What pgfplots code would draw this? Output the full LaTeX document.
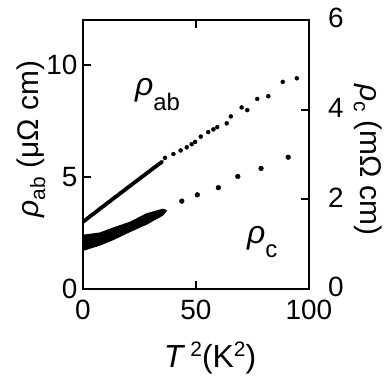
\documentclass[border=0pt]{standalone}
\usepackage{fontspec}
\setmainfont{Liberation Sans}
\usepackage{pgfplots}
\pgfplotsset{compat=1.18}

\newcommand{\tk}{\fontsize{28}{30}\selectfont}
\newcommand{\lb}{\fontsize{30}{32}\selectfont}

\begin{document}
\begin{tikzpicture}
\useasboundingbox (-83bp,-92bp) rectangle (305bp,289bp);
\pgfplotsset{
  every axis/.append style={
    scale only axis, width=226bp, height=269bp,
    at={(0,0)}, anchor=south west,
    xmin=0, xmax=100,
    tick align=inside, major tick length=8bp,
    every tick/.style={line width=2bp, black},
    axis line style={line width=2bp},
    ticklabel style={font=\tk},
    /pgf/number format/assume math mode=true,
  }
}
% rho_ab, left scale (micro-ohm cm)
\begin{axis}[
  ymin=0, ymax=12,
  xtick={0,50,100}, ytick={0,5,10},
  xtick pos=both, ytick pos=left,
  yticklabel style={xshift=-2bp},
  xticklabel style={inner sep=0pt, yshift=-11bp},
]
\addplot[black, line width=3.8bp, line cap=round] coordinates {
  (0,3.00) (1,3.07) (2,3.15) (3,3.23) (4,3.31) (5,3.38) (6,3.46) (7,3.54)
  (8,3.62) (9,3.69) (10,3.77) (11,3.85) (12,3.92) (13,4.00) (14,4.08)
  (15,4.15) (16,4.23) (17,4.31) (18,4.38) (19,4.46) (20,4.54) (21,4.61)
  (22,4.69) (23,4.77) (24,4.84) (25,4.92) (26,5.00) (27,5.07) (28,5.15)
  (29,5.22) (30,5.30) (31,5.38) (32,5.45) (33,5.53) (34,5.60) (35,5.68)
};
\addplot[only marks, mark=*, mark size=2bp, black] coordinates {
  (36.3,5.85) (40.0,6.02) (43.2,6.18) (45.9,6.32) (48.1,6.46) (49.6,6.56)
  (52.1,6.80) (55.4,7.00) (57.7,7.12) (59.4,7.22) (63.6,7.39) (65.4,7.70)
  (70.2,8.10) (72.7,7.98) (77.1,8.48) (82.0,8.60) (88.4,9.24) (94.6,9.40)
};
\node[anchor=base west, inner sep=0] at (axis cs:23,8.62)
  {\fontsize{32}{32}\selectfont\textit{ρ}\raisebox{-15bp}{\fontsize{24}{24}\selectfont ab}};
\node[anchor=base west, inner sep=0] at (axis cs:72.5,2.05)
  {\fontsize{32}{32}\selectfont\textit{ρ}\raisebox{-14bp}{\fontsize{24}{24}\selectfont c}};
\end{axis}
% rho_c, right scale (milli-ohm cm)
\begin{axis}[
  ymin=0, ymax=6,
  axis x line=none, axis y line*=right,
  ytick={0,2,4,6},
  yticklabel style={inner sep=0pt, xshift=19bp, yshift=2bp},
]
\addplot[fill=black, draw=black, line width=1bp, line join=round] coordinates {
  (0,1.20) (7.5,1.25) (13.3,1.36) (20.8,1.49) (28.3,1.68) (35.4,1.78)
  (37,1.75) (35.4,1.65) (28.3,1.45) (20.8,1.28) (13.3,1.10) (7.5,0.98)
  (0,0.86)
} -- cycle;
\addplot[only marks, mark=*, mark size=2.4bp, black] coordinates {
  (43.7,1.96) (50.6,2.10) (59.9,2.26) (68.5,2.51) (78.8,2.69) (90.8,2.94)
};
\end{axis}
% axis titles
\node[rotate=90, font=\lb] at (-52bp,150bp)
  {\textit{ρ}\raisebox{-7bp}{\fontsize{21}{21}\selectfont ab} (μΩ cm)};
\node[rotate=-90, font=\lb] at (285bp,129bp)
  {\textit{ρ}\raisebox{-7bp}{\fontsize{21}{21}\selectfont c} (mΩ cm)};
\node[anchor=base, font=\fontsize{32}{34}\selectfont, inner sep=0] at (127bp,-78bp)
  {\textit{T}\,\raisebox{11bp}{\fontsize{21}{21}\selectfont 2}(K\raisebox{11bp}{\fontsize{21}{21}\selectfont 2})};
\end{tikzpicture}
\end{document}
